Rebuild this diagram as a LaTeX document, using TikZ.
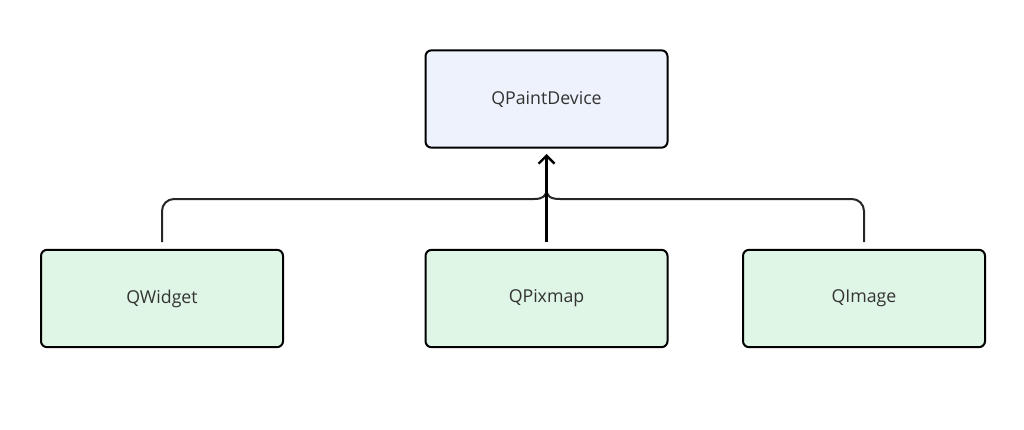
\documentclass[tikz,border=0pt]{standalone}
\usepackage{fontspec}
\setmainfont{Open Sans}
\usetikzlibrary{arrows.meta}
\definecolor{topfill}{HTML}{EEF2FC}
\definecolor{subfill}{HTML}{DFF5E5}
\definecolor{txt}{HTML}{333333}
\begin{document}
\begin{tikzpicture}[x=0.75pt,y=-0.75pt,
  cls/.style={draw=black,line width=1.5pt,rounded corners=4.5pt,minimum width=181.5pt,minimum height=73pt,inner sep=0pt,font=\fontsize{13.3pt}{15pt}\selectfont,text=txt},
  conn/.style={draw=black!85,line width=1.5pt,rounded corners=9pt},
  tip/.style={-{Straight Barb[length=6pt,width=12pt,line width=1.8pt]}}]
\useasboundingbox (0,0) rectangle (1024,429);
\node[cls,fill=topfill] (pd) at (546.5,99) {\raisebox{-1.5pt}{QPaintDevice}};
\node[cls,fill=subfill] (qw) at (162,298.5) {\raisebox{-1.5pt}{QWidget}};
\node[cls,fill=subfill] (qp) at (546.5,298.5) {\raisebox{-1.5pt}{QPixmap}};
\node[cls,fill=subfill] (qi) at (864,298.5) {\raisebox{-1.5pt}{QImage}};
\coordinate (hl) at (534,199);
\coordinate (hr) at (560,199);
\coordinate (hm) at (546.5,189);
\draw[conn] ([yshift=5pt]qw.north) -- (162,199) -- (hl);
\draw[conn] ([yshift=5pt]qi.north) -- (864,199) -- (hr);
\draw[draw=black!85,line width=1.5pt] (hl) .. controls (543,199) and (546.5,196) .. (hm);
\draw[draw=black!85,line width=1.5pt] (hr) .. controls (550,199) and (546.5,196) .. (hm);
\draw[draw=black,line width=2pt,tip,shorten >=4pt] ([yshift=5pt]qp.north) -- (pd.south);
\end{tikzpicture}
\end{document}
